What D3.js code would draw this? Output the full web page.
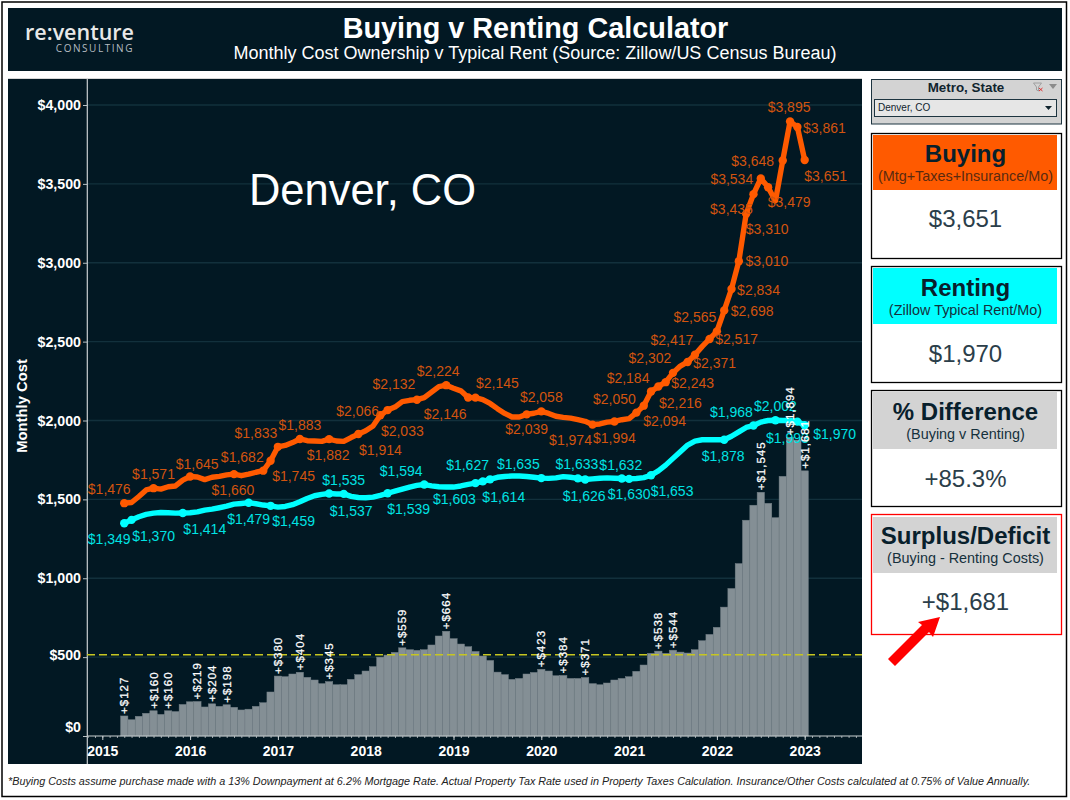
<!DOCTYPE html>
<html><head><meta charset="utf-8">
<script src="https://cdn.jsdelivr.net/npm/d3@7"></script>
<style>
html,body{margin:0;padding:0;background:#fff}
svg{display:block}
text{font-family:"Liberation Sans",Arial,sans-serif}
</style></head><body>
<svg id="c" width="1070" height="800"></svg>
<script>
// First month shown is Apr 2015 (month 3 counted from Jan 2015)
const firstMonth = 3;
const yearLabels = [2015,2016,2017,2018,2019,2020,2021,2022,2023];
const yTicks = [0,500,1000,1500,2000,2500,3000,3500,4000];
const referenceLine = [515];

const buying = [1476,1480,1518,1560,1571,1565,1580,1585,1622,1645,1642,1625,1640,1646,1655,1660,1650,1660,1672,1682,
1745,1833,1842,1860,1883,1872,1870,1868,1882,1870,1868,1892,1914,1935,1965,2033,2066,2085,2120,2128,
2132,2145,2180,2215,2224,2205,2188,2146,2145,2133,2108,2075,2045,2022,2022,2039,2046,2058,2045,2027,
2020,2015,2005,1995,1974,1978,1990,1994,2005,2012,2050,2094,2184,2216,2243,2302,2345,2371,2417,2470,
2517,2565,2698,2834,3010,3310,3435,3534,3479,3392,3648,3895,3861,3651];

const renting = [1349,1370,1390,1405,1413,1417,1415,1413,1414,1415,1421,1432,1438,1447,1457,1470,1474,1479,1472,1464,
1459,1451,1455,1466,1485,1506,1523,1532,1537,1534,1535,1519,1512,1510,1514,1525,1539,1552,1565,1578,
1589,1594,1586,1580,1578,1578,1585,1595,1603,1614,1627,1640,1645,1648,1648,1645,1640,1635,1633,1636,
1644,1640,1633,1626,1630,1634,1636,1634,1632,1630,1632,1638,1653,1681,1717,1760,1802,1844,1869,1878,
1878,1878,1878,1900,1928,1956,1968,1990,2000,2002,2000,2001,1993,1970];

const surplus = [127,103,125,144,160,137,160,155,200,217,219,184,204,188,198,182,165,170,188,211,
279,380,376,393,404,372,355,332,345,325,325,359,389,412,440,500,513,530,559,547,
543,547,577,634,664,617,583,566,536,507,479,405,389,359,365,393,403,423,412,382,
384,365,365,371,332,325,336,355,365,376,410,450,524,538,524,544,532,526,547,604,
644,689,817,935,1093,1368,1463,1545,1475,1384,1646,1894,1876,1681];

// label layout: [series index, dx, dy]
const buyLabels = [[0,-15,-14],[4,0,-14],[9,7,-13],[15,-1,16],[19,-21,-14],[20,23,15],[21,-22,-14],[24,0,-14],[28,-1,16],
[32,22,16],[35,22,16],[36,-30,1],[40,-23,-16],[44,-8,-14],[47,-23,16],[48,22,-14.5],[55,0,15],[57,0,-14],[64,-22,15],
[67,0,17],[70,-22,-14],[71,21,15],[72,-23,-14],[73,22,17],[74,27,1],[75,-23,-15],[77,27,1],[78,-23,-15],[80,27,0],
[81,-22,-14],[82,28,1],[83,27,1],[84,28,0],[85,21,15],[86,-22,15],[87,-29,0],[88,21,15],[90,-30,0],[91,-1,-15],[92,27,1],[93,21,16]];
const rentLabels = [[0,-15,16],[1,22,16],[8,22,16],[17,0,16],[20,23,15],[28,22,17],[30,0,-14],[36,21,16],[41,-23,-14],
[48,-21,16],[49,21,16],[50,-22.5,-14],[57,-23,-14],[62,-1,-14],[63,-1,16],[68,-1,-14],[69,0,15],[72,21,16],[82,-1,16],
[86,-22,-14],[89,0,-14],[92,-10,16],[93,30,9]];
const surplusLabelIdx = [0,4,6,10,12,14,21,24,28,38,44,57,60,63,73,75,87,91,93];

const svg = d3.select("#c");
const NAVY="#021823", ORANGE="#ff5a00", CYAN="#00ffff", ORANGE_T="#d2540f", CYAN_T="#00e3e3";

// page frame
svg.append("rect").attr("x",2).attr("y",2).attr("width",1064.5).attr("height",794.5).attr("fill","#fff").attr("stroke","#000").attr("stroke-width",1.5);
// header
svg.append("rect").attr("x",8).attr("y",8).attr("width",1054).attr("height",63).attr("fill",NAVY);
svg.append("text").attr("x",535.5).attr("y",37.5).attr("text-anchor","middle").attr("fill","#fff").attr("font-weight","bold").attr("font-size",28.8).text("Buying v Renting Calculator");
svg.append("text").attr("x",535).attr("y",59).attr("text-anchor","middle").attr("fill","#fff").attr("font-size",18).text("Monthly Cost Ownership v Typical Rent (Source: Zillow/US Census Bureau)");
svg.append("text").attr("x",134).attr("y",40).attr("text-anchor","end").attr("fill","#e8e8e8").style("font-family","'Open Sans'").attr("font-weight",600).attr("font-size",21.5).text("re:venture");
svg.append("text").attr("x",134).attr("y",52).attr("text-anchor","end").attr("fill","#b5bcc0").style("font-family","'Open Sans'").attr("font-size",10).attr("letter-spacing",1.55).text("CONSULTING");

// chart panel
svg.append("rect").attr("x",8).attr("y",78).attr("width",854).attr("height",1.5).attr("fill","#d8d8d8");
svg.append("rect").attr("x",8).attr("y",79).attr("width",854).attr("height",685).attr("fill",NAVY);

const x = d3.scaleLinear().domain([0,96]).range([102.3,804.7]);
const y = d3.scaleLinear().domain([0,4000]).range([736,105]);
const X = i => x(i+firstMonth);
const fmt = v => "$"+d3.format(",")(v);

// grid
svg.append("g").selectAll("line").data(yTicks.filter(d=>d>0)).join("line")
 .attr("x1",87).attr("x2",862).attr("y1",d=>y(d)).attr("y2",d=>y(d)).attr("stroke","#12303c").attr("stroke-width",1.4);

// bars
const bw = x(1)-x(0);
svg.append("g").selectAll("rect").data(surplus).join("rect")
 .attr("x",(d,i)=>X(i)-bw/2).attr("width",bw).attr("y",d=>y(d)).attr("height",d=>y(0)-y(d))
 .attr("fill","#848f95").attr("stroke","#727e85").attr("stroke-width",0.5);

// axes
const yAxis = d3.axisLeft(y).tickValues(yTicks).tickFormat(fmt).tickSize(4).tickPadding(2);
const gy = svg.append("g").attr("transform","translate(87,0)").call(yAxis);
gy.select(".domain").remove();
gy.selectAll("line").attr("stroke","#b8c0c4");
gy.selectAll("text").attr("fill","#fff").attr("font-weight","bold").attr("font-size",14.2)
  .attr("dy",d=> d===0 ? "-0.3em" : (d===500?"0.18em":"0.32em")).attr("font-family","Liberation Sans");
svg.append("line").attr("x1",87.3).attr("x2",87.3).attr("y1",79).attr("y2",764).attr("stroke","#c9cfd2").attr("stroke-width",1.2);

const months = d3.range(-2,104);
const gxMinor = svg.append("g").attr("transform","translate(0,736)")
  .call(d3.axisBottom(x).tickValues(months).tickSize(2).tickFormat(""));
gxMinor.select(".domain").remove();
gxMinor.selectAll("line").attr("stroke","#9aa4a9");
const gx = svg.append("g").attr("transform","translate(0,736)")
  .call(d3.axisBottom(x).tickValues(yearLabels.map(d=>(d-2015)*12)).tickSize(4).tickFormat(d=>2015+d/12));
gx.select(".domain").remove();
gx.selectAll("line").attr("stroke","#c9cfd2");
gx.selectAll("text").attr("fill","#fff").attr("font-weight","bold").attr("font-size",14).attr("y",10).attr("dy","0.71em").attr("font-family","Liberation Sans");
svg.append("line").attr("x1",87).attr("x2",862).attr("y1",y(0)).attr("y2",y(0)).attr("stroke","#c9cfd2").attr("stroke-width",1.2);

svg.append("text").attr("transform","translate(27,406) rotate(-90)").attr("text-anchor","middle").attr("fill","#fff").attr("font-weight","bold").attr("font-size",14.8).text("Monthly Cost");

// reference line
svg.append("g").selectAll("line").data(referenceLine).join("line")
 .attr("x1",87).attr("x2",862).attr("y1",d=>y(d)).attr("y2",d=>y(d))
 .attr("stroke","#c6c622").attr("stroke-width",1.6).attr("stroke-dasharray","8 4");

// lines
const line = d3.line().x((d,i)=>X(i)).y(d=>y(d));
function drawSeries(vals,labels,col,tcol){
  svg.append("path").datum(vals).attr("d",line).attr("fill","none").attr("stroke",col).attr("stroke-width",5.4).attr("stroke-linejoin","round").attr("stroke-linecap","round");
  svg.append("g").selectAll("circle").data(labels).join("circle").attr("cx",d=>X(d[0])).attr("cy",d=>y(vals[d[0]])).attr("r",4.2).attr("fill",col);
  svg.append("g").selectAll("text").data(labels).join("text")
    .attr("x",d=>X(d[0])+d[1]).attr("y",d=>y(vals[d[0]])+d[2]).attr("dy","0.36em").attr("text-anchor","middle")
    .attr("fill",tcol).attr("font-size",14).text(d=>fmt(vals[d[0]]));
}
drawSeries(buying,buyLabels,ORANGE,ORANGE_T);
drawSeries(renting,rentLabels,CYAN,CYAN_T);

// surplus labels
svg.append("g").selectAll("text").data(surplusLabelIdx).join("text")
 .attr("transform",i=>`translate(${X(i)+4},${y(surplus[i])-2}) rotate(-90)`)
 .attr("fill","#fff").attr("stroke","#fff").attr("stroke-width",0.25).attr("font-size",11.5).attr("letter-spacing",1).text(i=>"+"+fmt(surplus[i]));

svg.append("text").attr("x",362.5).attr("y",205).attr("text-anchor","middle").attr("fill","#fff").attr("font-size",43.5).text("Denver, CO");

// filter box
svg.append("rect").attr("x",871.5).attr("y",79.5).attr("width",190).attr("height",44.5).attr("fill","#d3d3d3").attr("stroke","#1d3440").attr("stroke-width",1);
svg.append("text").attr("x",966).attr("y",92).attr("text-anchor","middle").attr("fill","#10242e").attr("font-weight","bold").attr("font-size",13.4).text("Metro, State");
svg.append("rect").attr("x",874.5).attr("y",99.5).attr("width",182).attr("height",17).attr("fill","#e6e6e6").attr("stroke","#1d3440").attr("stroke-width",1);
svg.append("text").attr("x",878).attr("y",111).attr("fill","#10242e").attr("font-size",10).text("Denver, CO");
svg.append("path").attr("d","M1045,106 h7 l-3.5,4 z").attr("fill","#10242e");
svg.append("path").attr("d","M1033.5,83 h8 l-3,4 v4 l-2,-1 v-3 z").attr("fill","none").attr("stroke","#9a9a9a").attr("stroke-width",0.9);
svg.append("path").attr("d","M1039,88 l3.5,3 m0,-3 l-3.5,3").attr("stroke","#d33").attr("stroke-width",1);
svg.append("path").attr("d","M1049,84 h8 l-4,5 z").attr("fill","#8c8c8c");

// cards
const cardTitles = ["Buying","Renting","% Difference","Surplus/Deficit"];
const cardSubs = ["(Mtg+Taxes+Insurance/Mo)","(Zillow Typical Rent/Mo)","(Buying v Renting)","(Buying - Renting Costs)"];
const last = buying.length-1;
const cardValues = [fmt(buying[last]),fmt(renting[last]),
  "+"+d3.format(".1f")(surplus[last]/renting[last]*100)+"%","+"+fmt(surplus[last])];
const cardFill = [ORANGE,CYAN,"#d3d3d3","#d3d3d3"];
const cardBox = [[133,258,135,190],[266,382,268,324],[390,506,392,449],[514,634,517,573]];
const cardBorder = ["#000","#000","#000","#f00"];
const titleShift = [27,28,28,27], subShift = [46,47,47,46], valueShift = [37,38,38,37];
cardTitles.forEach((t,i)=>{
  const [t0,t1,h0,h1]=cardBox[i];
  svg.append("rect").attr("x",871.5).attr("y",t0+.5).attr("width",190).attr("height",t1-t0).attr("fill","#fff").attr("stroke",cardBorder[i]).attr("stroke-width",1.3);
  svg.append("rect").attr("x",873).attr("y",h0).attr("width",184).attr("height",h1-h0).attr("fill",cardFill[i]);
  svg.append("text").attr("x",965.5).attr("y",h0+titleShift[i]).attr("text-anchor","middle").attr("fill","#08202c").attr("font-weight","bold").attr("font-size",24).text(t);
  svg.append("text").attr("x",965.5).attr("y",h0+subShift[i]).attr("text-anchor","middle").attr("fill",i==0?"#5a2a10":"#15303c").attr("font-size",14.4).text(cardSubs[i]);
  svg.append("text").attr("x",965.5).attr("y",h1+valueShift[i]).attr("text-anchor","middle").attr("fill","#2b3e4a").attr("font-size",24).text(cardValues[i]);
});

// arrow
svg.append("path").attr("d","M940,617 L933,637 L929,632 L895,666 L888,659 L922,625 L918,622 Z").attr("fill","#f00");

// footnote
svg.append("text").attr("x",8).attr("y",785).attr("fill","#222").attr("font-style","italic").attr("font-size",10.8).text("*Buying Costs assume purchase made with a 13% Downpayment at 6.2% Mortgage Rate. Actual Property Tax Rate used in Property Taxes Calculation. Insurance/Other Costs calculated at 0.75% of Value Annually.");
</script>
</body></html>
